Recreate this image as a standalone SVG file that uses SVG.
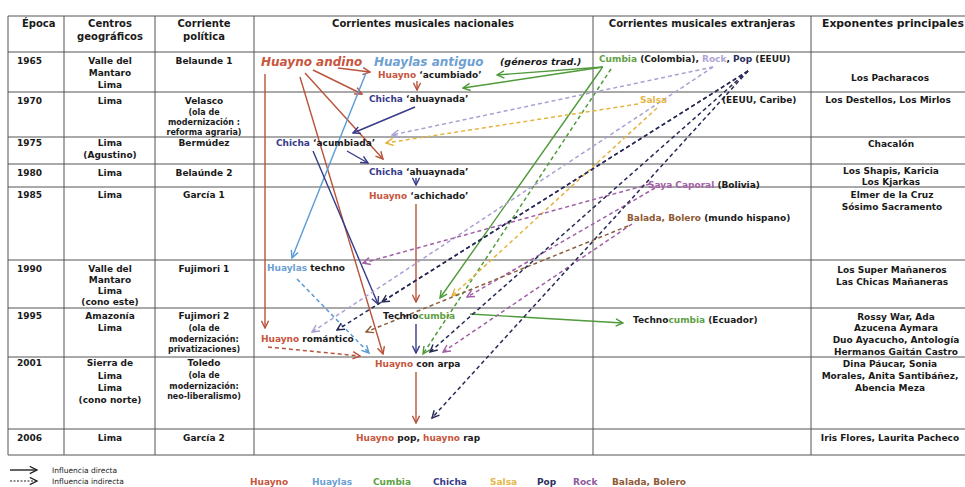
<svg xmlns="http://www.w3.org/2000/svg" width="965" height="487" viewBox="0 0 965 487">
<style>
text{font-family:"DejaVu Sans",Verdana,sans-serif;font-weight:bold;font-size:9px;fill:#1a1a1a}
.h{font-size:10px}
.s{font-size:8px}
.c{text-anchor:middle}
.it{font-style:italic}
.big{font-size:12px}
.lg{font-weight:normal;font-size:7.5px}
.hua{fill:#c8553d}.hy{fill:#6d9fd3}.cu{fill:#5fa145}.ch{fill:#363b8a}.sa{fill:#e5b648}.po{fill:#2c2f5c}.ro{fill:#b0a6d6}.rol{fill:#8c5b9c}.sc{fill:#a462a8}.ba{fill:#8e5a36}
.grid line{stroke:#555;stroke-width:1}
.a{fill:none;stroke-width:1.4}
.d{stroke-dasharray:4 3;stroke-width:1.5}
.kR{stroke:#b9533a}.kB{stroke:#5b9bd5}.kC{stroke:#363b8a}.kG{stroke:#4f9a3a}.kY{stroke:#e5b440}.kL{stroke:#aaa0d2}.kS{stroke:#a060a8}.kBr{stroke:#8b5e3c}.kP{stroke:#262a55}.kK{stroke:#222}
</style>
<defs>
<marker id="mR" viewBox="0 0 10 10" refX="9" refY="5" markerWidth="9" markerHeight="9" orient="auto" markerUnits="userSpaceOnUse"><path d="M1,1 L9,5 L1,9" fill="none" stroke="#b9533a" stroke-width="1.6"/></marker>
<marker id="mB" viewBox="0 0 10 10" refX="9" refY="5" markerWidth="9" markerHeight="9" orient="auto" markerUnits="userSpaceOnUse"><path d="M1,1 L9,5 L1,9" fill="none" stroke="#5b9bd5" stroke-width="1.6"/></marker>
<marker id="mC" viewBox="0 0 10 10" refX="9" refY="5" markerWidth="9" markerHeight="9" orient="auto" markerUnits="userSpaceOnUse"><path d="M1,1 L9,5 L1,9" fill="none" stroke="#363b8a" stroke-width="1.6"/></marker>
<marker id="mG" viewBox="0 0 10 10" refX="9" refY="5" markerWidth="9" markerHeight="9" orient="auto" markerUnits="userSpaceOnUse"><path d="M1,1 L9,5 L1,9" fill="none" stroke="#4f9a3a" stroke-width="1.6"/></marker>
<marker id="mY" viewBox="0 0 10 10" refX="9" refY="5" markerWidth="9" markerHeight="9" orient="auto" markerUnits="userSpaceOnUse"><path d="M1,1 L9,5 L1,9" fill="none" stroke="#e5b440" stroke-width="1.6"/></marker>
<marker id="mL" viewBox="0 0 10 10" refX="9" refY="5" markerWidth="9" markerHeight="9" orient="auto" markerUnits="userSpaceOnUse"><path d="M1,1 L9,5 L1,9" fill="none" stroke="#aaa0d2" stroke-width="1.6"/></marker>
<marker id="mS" viewBox="0 0 10 10" refX="9" refY="5" markerWidth="9" markerHeight="9" orient="auto" markerUnits="userSpaceOnUse"><path d="M1,1 L9,5 L1,9" fill="none" stroke="#a060a8" stroke-width="1.6"/></marker>
<marker id="mBr" viewBox="0 0 10 10" refX="9" refY="5" markerWidth="9" markerHeight="9" orient="auto" markerUnits="userSpaceOnUse"><path d="M1,1 L9,5 L1,9" fill="none" stroke="#8b5e3c" stroke-width="1.6"/></marker>
<marker id="mP" viewBox="0 0 10 10" refX="9" refY="5" markerWidth="9" markerHeight="9" orient="auto" markerUnits="userSpaceOnUse"><path d="M1,1 L9,5 L1,9" fill="none" stroke="#262a55" stroke-width="1.6"/></marker>
<marker id="mK" viewBox="0 0 10 10" refX="9" refY="5" markerWidth="9" markerHeight="9" orient="auto" markerUnits="userSpaceOnUse"><path d="M1,1 L9,5 L1,9" fill="none" stroke="#222" stroke-width="1.4"/></marker>
</defs>
<rect width="965" height="487" fill="#fff"/>
<g class="grid">
<line x1="8" y1="16" x2="965" y2="16"/><line x1="8" y1="52" x2="965" y2="52"/><line x1="8" y1="92" x2="965" y2="92"/><line x1="8" y1="137" x2="965" y2="137"/><line x1="8" y1="164" x2="965" y2="164"/><line x1="8" y1="187" x2="965" y2="187"/><line x1="8" y1="260" x2="965" y2="260"/><line x1="8" y1="308" x2="965" y2="308"/><line x1="8" y1="357" x2="965" y2="357"/><line x1="8" y1="429" x2="965" y2="429"/><line x1="8" y1="455" x2="965" y2="455"/>
<line x1="8" y1="16" x2="8" y2="455"/><line x1="64" y1="16" x2="64" y2="455"/><line x1="155" y1="16" x2="155" y2="455"/><line x1="254" y1="16" x2="254" y2="455"/><line x1="593" y1="16" x2="593" y2="455"/><line x1="811" y1="16" x2="811" y2="455"/>
</g>
<g id="header">
<text class="h" x="22" y="27">Época</text>
<text class="h c" x="110" y="27">Centros</text><text class="h c" x="110" y="40">geográficos</text>
<text class="h c" x="204" y="27">Corriente</text><text class="h c" x="204" y="40">política</text>
<text class="h c" x="423" y="27">Corrientes musicales nacionales</text>
<text class="h c" x="702" y="27">Corrientes musicales extranjeras</text>
<text class="h" x="822" y="27" style="font-size:10.8px">Exponentes principales</text>
</g>
<g id="epoca">
<text x="17" y="64">1965</text><text x="17" y="104">1970</text><text x="17" y="146">1975</text><text x="17" y="176">1980</text><text x="17" y="198">1985</text><text x="17" y="272">1990</text><text x="17" y="319">1995</text><text x="17" y="366">2001</text><text x="17" y="441">2006</text>
</g>
<g id="centros">
<text class="c" x="110" y="64">Valle del</text><text class="c" x="110" y="76">Mantaro</text><text class="c" x="110" y="88">Lima</text>
<text class="c" x="110" y="104">Lima</text>
<text class="c" x="110" y="146">Lima</text><text class="c" x="110" y="158">(Agustino)</text>
<text class="c" x="110" y="176">Lima</text>
<text class="c" x="110" y="198">Lima</text>
<text class="c" x="110" y="272">Valle del</text><text class="c" x="110" y="283">Mantaro</text><text class="c" x="110" y="294">Lima</text><text class="c" x="110" y="305">(cono este)</text>
<text class="c" x="110" y="319">Amazonía</text><text class="c" x="110" y="331">Lima</text>
<text class="c" x="110" y="366">Sierra de</text><text class="c" x="110" y="379">Lima</text><text class="c" x="110" y="391">Lima</text><text class="c" x="110" y="403">(cono norte)</text>
<text class="c" x="110" y="441">Lima</text>
</g>
<g id="politica">
<text class="c" x="204" y="64">Belaunde 1</text>
<text class="c" x="204" y="104">Velasco</text><text class="c s" x="204" y="115">(ola de</text><text class="c s" x="204" y="125">modernización :</text><text class="c s" x="204" y="135">reforma agraria)</text>
<text class="c" x="204" y="146">Bermúdez</text>
<text class="c" x="204" y="176">Belaúnde 2</text>
<text class="c" x="204" y="198">García 1</text>
<text class="c" x="204" y="272">Fujimori 1</text>
<text class="c" x="204" y="319">Fujimori 2</text><text class="c s" x="204" y="331">(ola de</text><text class="c s" x="204" y="342">modernización:</text><text class="c s" x="204" y="352">privatizaciones)</text>
<text class="c" x="204" y="366">Toledo</text><text class="c s" x="204" y="378">(ola de</text><text class="c s" x="204" y="389">modernización:</text><text class="c s" x="204" y="399">neo-liberalismo)</text>
<text class="c" x="204" y="441">García 2</text>
</g>
<g id="connectors">
<path class="a kR" d="M265,74 V328" marker-end="url(#mR)"/>
<path class="a kR" d="M338,68 L370,72" marker-end="url(#mR)"/>
<path class="a kR" d="M313,70 L362,94" marker-end="url(#mR)"/>
<path class="a kR" d="M305,73 L383,159" marker-end="url(#mR)"/>
<path class="a kR" d="M300,77 L383,354" marker-end="url(#mR)"/>
<path class="a kR" d="M417,81 L417,90" marker-end="url(#mR)"/>
<path class="a kR" d="M416,204 L416,302" marker-end="url(#mR)"/>
<path class="a kR" d="M416,372 L416,423" marker-end="url(#mR)"/>
<path class="a d kR" d="M268,347 L360,356" marker-end="url(#mR)"/>
<path class="a kB" d="M366,73 L292,258" marker-end="url(#mB)"/>
<path class="a d kB" d="M297,279 L369,353" marker-end="url(#mB)"/>
<path class="a kC" d="M415,107 L353,133" marker-end="url(#mC)"/>
<path class="a kC" d="M347,151 L368,163" marker-end="url(#mC)"/>
<path class="a kC" d="M416,178 L416,185" marker-end="url(#mC)"/>
<path class="a kC" d="M313,151 L378,304" marker-end="url(#mC)"/>
<path class="a kC" d="M416,324 L416,353" marker-end="url(#mC)"/>
<path class="a kG" d="M603,67 L497,75" marker-end="url(#mG)"/>
<path class="a kG" d="M603,67 L463,88" marker-end="url(#mG)"/>
<path class="a kG" d="M602,68 L440,298" marker-end="url(#mG)"/>
<path class="a kG" d="M470,314 L623,323" marker-end="url(#mG)"/>
<path class="a d kG" d="M611,69 L423,354" marker-end="url(#mG)"/>
<path class="a d kY" d="M638,104 L386,143" marker-end="url(#mY)"/>
<path class="a d kY" d="M657,108 L452,296" marker-end="url(#mY)"/>
<path class="a d kL" d="M713,67 L392,135" marker-end="url(#mL)"/>
<path class="a d kL" d="M713,67 L312,332" marker-end="url(#mL)"/>
<path class="a d kS" d="M650,184 L363,263" marker-end="url(#mS)"/>
<path class="a d kS" d="M655,188 L467,297" marker-end="url(#mS)"/>
<path class="a d kS" d="M632,224 L443,352" marker-end="url(#mS)"/>
<path class="a d kBr" d="M628,226 L366,332" marker-end="url(#mBr)"/>
<path class="a d kP" d="M748,71 L337,330" marker-end="url(#mP)"/>
<path class="a d kP" d="M748,71 L382,302" marker-end="url(#mP)"/>
<path class="a d kP" d="M748,71 L430,352" marker-end="url(#mP)"/>
<path class="a d kP" d="M748,71 L432,418" marker-end="url(#mP)"/>
</g>
<g id="nacionales">
<text class="big it hua" x="261" y="66">Huayno andino</text>
<text class="big it hy" x="374" y="66">Huaylas antiguo</text>
<text class="it" x="500" y="65" style="font-size:9.5px">(géneros trad.)</text>
<text x="378" y="78"><tspan class="hua">Huayno</tspan> ‘acumbiado’</text>
<text x="369" y="102"><tspan class="ch">Chicha</tspan> ‘ahuaynada’</text>
<text x="276" y="146"><tspan class="ch">Chicha</tspan> ‘acumbiada’</text>
<text x="369" y="175"><tspan class="ch">Chicha</tspan> ‘ahuaynada’</text>
<text x="369" y="199"><tspan class="hua">Huayno</tspan> ‘achichado’</text>
<text x="267" y="271"><tspan class="hy">Huaylas</tspan> techno</text>
<text x="383" y="319">Techno<tspan class="cu">cumbia</tspan></text>
<text x="261" y="342"><tspan class="hua">Huayno</tspan> romántico</text>
<text x="375" y="367"><tspan class="hua">Huayno</tspan> con arpa</text>
<text x="356" y="441"><tspan class="hua">Huayno</tspan> pop, <tspan class="hua">huayno</tspan> rap</text>
</g>
<g id="extranjeras">
<text x="599" y="62"><tspan class="cu">Cumbia</tspan> (Colombia), <tspan class="ro">Rock</tspan>, <tspan class="po">Pop</tspan> (EEUU)</text>
<text class="sa" x="640" y="103">Salsa</text>
<text x="722" y="103">(EEUU, Caribe)</text>
<text x="648" y="188"><tspan class="sc">Saya Caporal</tspan> (Bolivia)</text>
<text x="627" y="221"><tspan class="ba">Balada, Bolero</tspan> (mundo hispano)</text>
<text x="633" y="323">Techno<tspan class="cu">cumbia</tspan> (Ecuador)</text>
</g>
<g id="exponentes">
<text class="c" x="890" y="81">Los Pacharacos</text>
<text class="c" x="888" y="103">Los Destellos, Los Mirlos</text>
<text class="c" x="891" y="147">Chacalón</text>
<text class="c" x="891" y="174">Los Shapis, Karicia</text><text class="c" x="891" y="185">Los Kjarkas</text>
<text class="c" x="892" y="198">Elmer de la Cruz</text><text class="c" x="892" y="210">Sósimo Sacramento</text>
<text class="c" x="892" y="273">Los Super Mañaneros</text><text class="c" x="892" y="285">Las Chicas Mañaneras</text>
<text class="c" x="896" y="320">Rossy War, Ada</text><text class="c" x="896" y="331">Azucena Aymara</text><text class="c" x="896" y="343">Duo Ayacucho, Antología</text><text class="c" x="896" y="355">Hermanos Gaitán Castro</text>
<text class="c" x="890" y="367">Dina Páucar, Sonia</text><text class="c" x="890" y="379">Morales, Anita Santibáñez,</text><text class="c" x="890" y="391">Abencia Meza</text>
<text class="c" x="890" y="441">Iris Flores, Laurita Pacheco</text>
</g>
<g id="legend">
<path class="a kK" d="M10,470 L37,470" marker-end="url(#mK)"/>
<path class="a kK" d="M10,481 L37,481" style="stroke-dasharray:2 1.5;stroke-width:1.2" marker-end="url(#mK)"/>
<text class="lg" x="52" y="473">Influencia directa</text>
<text class="lg" x="52" y="484">Influencia indirecta</text>
<text class="hua" x="250" y="485">Huayno</text>
<text class="hy" x="312" y="485">Huaylas</text>
<text class="cu" x="373" y="485">Cumbia</text>
<text class="ch" x="433" y="485">Chicha</text>
<text class="sa" x="490" y="485">Salsa</text>
<text class="po" x="537" y="485">Pop</text>
<text class="rol" x="573" y="485">Rock</text>
<text class="ba" x="612" y="485">Balada, Bolero</text>
</g>
</svg>
